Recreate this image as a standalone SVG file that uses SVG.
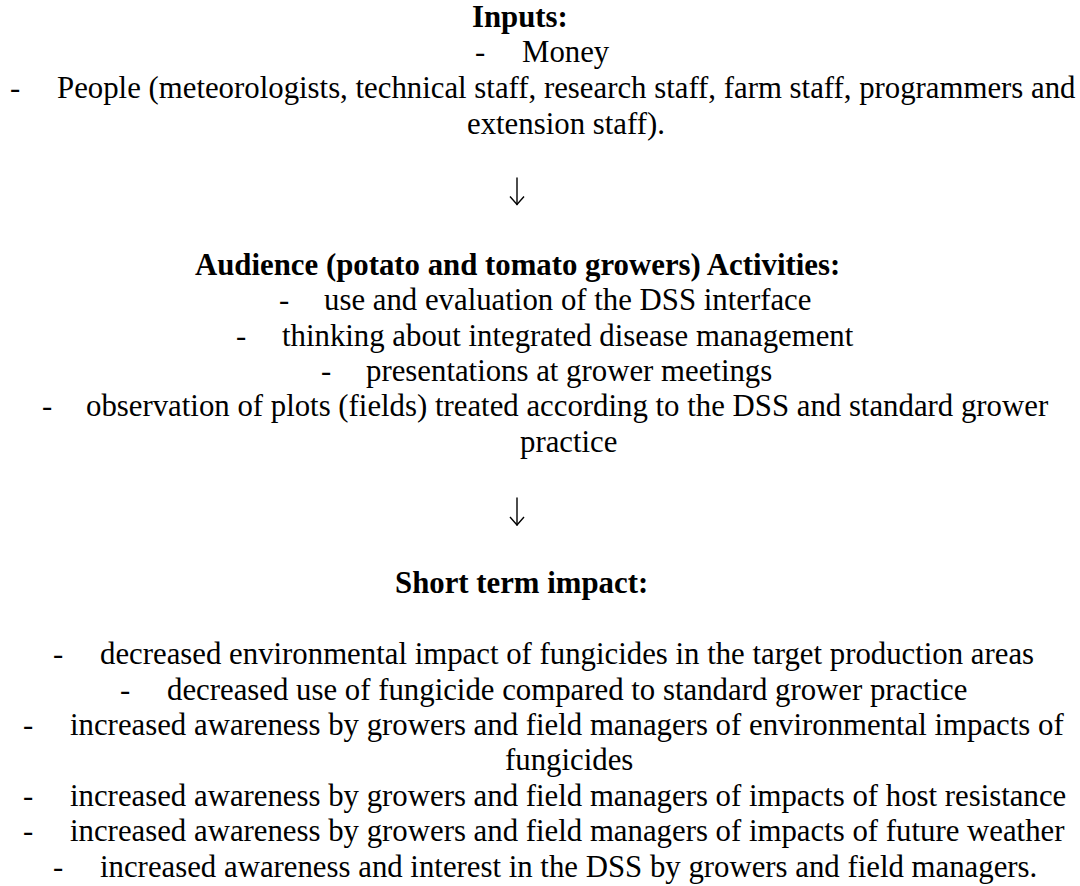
<svg xmlns="http://www.w3.org/2000/svg" width="1080" height="886" viewBox="0 0 1080 886">
  <style>
    text { font-family: "Liberation Serif", "Times New Roman", serif; font-size: 30.8px; fill: #000; }
    .h { font-weight: bold; }
    .conn { fill: none; stroke: #000; stroke-width: 1.4; stroke-linecap: round; stroke-linejoin: miter; }
  </style>
  <defs>
    <marker id="head" viewBox="0 0 16 10" refX="8" refY="9" markerWidth="16" markerHeight="10" markerUnits="userSpaceOnUse" orient="0">
      <path d="M1,1 L8,9 L15,1" fill="none" stroke="#000" stroke-width="1.4"/>
    </marker>
  </defs>
  <rect x="0" y="0" width="1080" height="886" fill="#fff"/>

  <!-- Inputs block -->
  <g id="inputs">
    <text class="h" x="472" y="27">Inputs:</text>
    <text x="475" y="62.4">-</text>
    <text x="522" y="62.4">Money</text>
    <text x="10" y="97.8">-</text>
    <text x="57" y="97.8">People (meteorologists, technical staff, research staff, farm staff, programmers and</text>
    <text x="467" y="134">extension staff).</text>
  </g>

  <!-- Activities block -->
  <g id="activities">
    <text class="h" x="195" y="274.8">Audience (potato and tomato growers) Activities:</text>
    <text x="279" y="310.2">-</text>
    <text x="324" y="310.2">use and evaluation of the DSS interface</text>
    <text x="236" y="345.6">-</text>
    <text x="282" y="345.6">thinking about integrated disease management</text>
    <text x="321" y="381">-</text>
    <text x="366" y="381">presentations at grower meetings</text>
    <text x="42" y="416.4">-</text>
    <text x="86" y="416.4">observation of plots (fields) treated according to the DSS and standard grower</text>
    <text x="520" y="451.8">practice</text>
  </g>

  <!-- Short term impact block -->
  <g id="impact">
    <text class="h" x="395" y="593.4">Short term impact:</text>
    <text x="53" y="664.2">-</text>
    <text x="100" y="664.2">decreased environmental impact of fungicides in the target production areas</text>
    <text x="120" y="699.6">-</text>
    <text x="167" y="699.6">decreased use of fungicide compared to standard grower practice</text>
    <text x="23" y="735">-</text>
    <text x="70" y="735">increased awareness by growers and field managers of environmental impacts of</text>
    <text x="505" y="770.4">fungicides</text>
    <text x="23" y="805.8">-</text>
    <text x="70" y="805.8">increased awareness by growers and field managers of impacts of host resistance</text>
    <text x="23" y="841.2">-</text>
    <text x="70" y="841.2">increased awareness by growers and field managers of impacts of future weather</text>
    <text x="53" y="876.6">-</text>
    <text x="100" y="876.6">increased awareness and interest in the DSS by growers and field managers.</text>
  </g>

  <!-- Connectors between blocks -->
  <g id="connectors">
    <path class="conn" d="M517,178 L517,204.5" marker-end="url(#head)"/>
    <path class="conn" d="M517,498 L517,525" marker-end="url(#head)"/>
  </g>
</svg>
